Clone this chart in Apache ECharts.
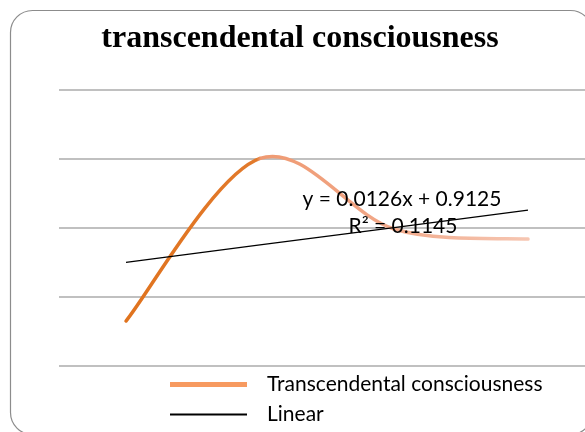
<!DOCTYPE html>
<html>
<head>
<meta charset="utf-8">
<script src="https://cdn.jsdelivr.net/npm/echarts@6/dist/echarts.min.js"></script>
<style>
html,body{margin:0;padding:0;background:#fff;}
#chart{width:585px;height:432px;}
</style>
</head>
<body>
<div id="chart"></div>
<script>
var categories = ['1', '2', '3', '4'];
var seriesName = 'Transcendental consciousness';
var values = [0.8826, 1.0004, 0.9493, 0.942];
var trendName = 'Linear';
var trendValues = [0.9251, 0.9377, 0.9503, 0.9629];
var titleText = 'transcendental consciousness';
var equationLines = ['y = 0.0126x + 0.9125', 'R\u00B2 = 0.1145'];
var yMin = 0.85, yMax = 1.05, yInterval = 0.05;

var chart = echarts.init(document.getElementById('chart'), null, {renderer: 'canvas'});

function renderSmooth(params, api) {
  var n = values.length;
  var i = params.dataIndex;
  if (i >= n - 1) return null;
  function P(k) { k = Math.max(0, Math.min(n - 1, k)); return api.coord([k, values[k]]); }
  var p0 = P(i - 1), p1 = P(i), p2 = P(i + 1), p3 = P(i + 2);
  var c1 = [p1[0] + (p2[0] - p0[0]) / 6, p1[1] + (p2[1] - p0[1]) / 6];
  var c2 = [p2[0] - (p3[0] - p1[0]) / 6, p2[1] - (p3[1] - p1[1]) / 6];
  var xa = P(0)[0], xb = P(n - 1)[0];
  var grad = new echarts.graphic.LinearGradient(xa, 0, xb, 0, [
    {offset: 0, color: '#E0731E'}, {offset: 0.325, color: '#E27A2C'},
    {offset: 0.335, color: '#EF9A72'}, {offset: 0.6, color: '#F1A584'},
    {offset: 0.85, color: '#F4BAA1'}, {offset: 1, color: '#F6C6B2'}], true);
  return {
    type: 'bezierCurve',
    shape: {x1: p1[0], y1: p1[1], x2: p2[0], y2: p2[1], cpx1: c1[0], cpy1: c1[1], cpx2: c2[0], cpy2: c2[1]},
    style: {fill: null, stroke: grad, lineWidth: 3.5, lineCap: 'round'}
  };
}

chart.setOption({
  animation: false,
  backgroundColor: '#fff',
  title: {
    text: titleText,
    left: 295, top: 18, textAlign: 'center',
    textStyle: {fontFamily: 'Liberation Serif', fontWeight: 'bold', fontSize: 32, color: '#000'}
  },
  graphic: [
    {type: 'rect', z: -1, shape: {x: 10.5, y: 10.5, width: 582, height: 424, r: 22},
     style: {fill: 'none', stroke: '#8c8c8c', lineWidth: 1.2}},
    {type: 'text', x: 402, y: 189, z: 10,
     style: {text: equationLines[0], fill: '#000', font: '21px Lato', align: 'center'}},
    {type: 'text', x: 403, y: 216, z: 10,
     style: {text: equationLines[1], fill: '#000', font: '21px Lato', align: 'center'}}
  ],
  legend: [
    {data: [{name: seriesName, icon: 'rect', itemStyle: {color: '#F79A60'}}],
     left: 165, top: 369, itemWidth: 77, itemHeight: 5,
     textStyle: {fontFamily: 'Lato', fontSize: 21, lineHeight: 20, color: '#000', padding: [0, 0, 0, 15]}},
    {data: [{name: trendName, icon: 'rect', itemStyle: {color: '#000'}}],
     left: 165, top: 399, itemWidth: 77, itemHeight: 2,
     textStyle: {fontFamily: 'Lato', fontSize: 21, lineHeight: 20, color: '#000', padding: [0, 0, 0, 15]}}
  ],
  grid: {left: 59, right: -10, top: 90, bottom: 66, containLabel: false, outerBoundsMode: 'none'},
  xAxis: {
    type: 'category', data: categories, boundaryGap: true,
    axisLine: {show: false}, axisTick: {show: false}, axisLabel: {show: false}, splitLine: {show: false}
  },
  yAxis: {
    type: 'value', min: yMin, max: yMax, interval: yInterval,
    axisLine: {show: false}, axisTick: {show: false}, axisLabel: {show: false},
    splitLine: {show: true, lineStyle: {color: '#ababab', width: 1.5}}
  },
  series: [
    {name: seriesName, type: 'custom', data: values.map(function (v, i) { return [i, v]; }),
     encode: {x: 0, y: 1}, renderItem: renderSmooth, z: 2, itemStyle: {color: '#F79A60'}},
    {name: trendName, type: 'line', data: trendValues, smooth: false, symbol: 'none', z: 3,
     lineStyle: {width: 1.3, color: '#000'}}
  ]
});
</script>
</body>
</html>
